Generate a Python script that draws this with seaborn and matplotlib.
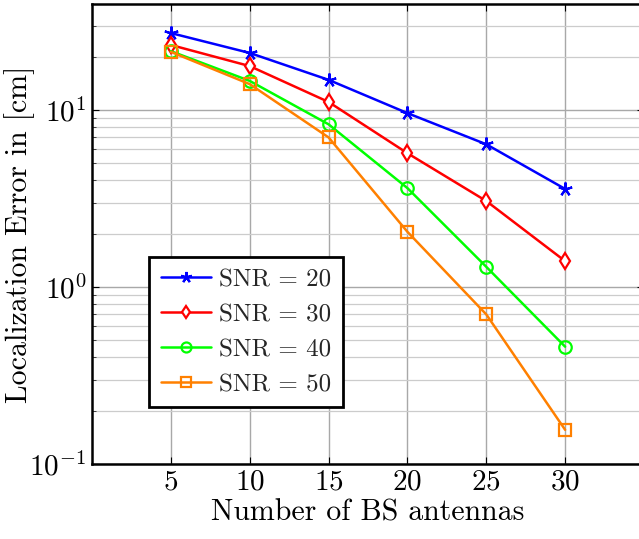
import matplotlib
matplotlib.use("Agg")
import matplotlib.pyplot as plt
import seaborn as sns
import pandas as pd
from matplotlib.ticker import LogLocator, NullFormatter, FixedLocator

antennas = [5, 10, 15, 20, 25, 30]
snr20 = [27.2, 21.0, 14.8, 9.6, 6.4, 3.58]
snr30 = [23.3, 17.7, 11.1, 5.7, 3.06, 1.40]
snr40 = [21.5, 14.6, 8.3, 3.62, 1.30, 0.46]
snr50 = [21.3, 14.0, 7.0, 2.05, 0.70, 0.156]
legend_labels = ["SNR = 20", "SNR = 30", "SNR = 40", "SNR = 50"]
colors = ["#0000ff", "#ff0000", "#00ff00", "#ff8000"]
markers = [(5, 2, 0), "d", "o", "s"]
msizes = [10, 8, 9, 9]
facecolors = ["#0000ff", "white", "none", "none"]

sns.set_theme(style="white")
plt.rcParams["font.family"] = ["serif"]
plt.rcParams["font.serif"] = ["cmr10", "DejaVu Serif"]
plt.rcParams["mathtext.fontset"] = "cm"
plt.rcParams["axes.formatter.use_mathtext"] = True

fig = plt.figure(figsize=(6.39, 5.39), dpi=100)
# axes spans x from 0 to 35; right spine falls just outside the image as in the reference
ax = fig.add_axes([92 / 639, 75 / 539, 552 / 639, 460 / 539])

series = [snr20, snr30, snr40, snr50]
for vals, lab, c, m, ms in zip(series, legend_labels, colors, markers, msizes):
    df = pd.DataFrame({"x": antennas, "y": vals})
    sns.lineplot(data=df, x="x", y="y", ax=ax, color=c, marker=m,
                 markersize=ms, markeredgecolor=c, markeredgewidth=1.6,
                 linewidth=1.8, label=lab)
for line, fc in zip(ax.lines, facecolors):
    line.set_markerfacecolor(fc)

ax.set_yscale("log")
ax.set_xlim(0, 35)
ax.set_ylim(0.1, 39.7)
ax.xaxis.set_major_locator(FixedLocator(antennas))
ax.yaxis.set_major_locator(LogLocator(base=10, numticks=10))
ax.yaxis.set_minor_locator(LogLocator(base=10, subs=range(2, 10), numticks=20))
ax.yaxis.set_minor_formatter(NullFormatter())

ax.grid(True, which="major", axis="both", color="#a8a8a8", linewidth=1.0)
ax.grid(True, which="minor", axis="y", color="#cccccc", linewidth=0.9)
ax.set_axisbelow(True)
for s in ax.spines.values():
    s.set_color("black")
    s.set_linewidth(1.8)

ax.tick_params(axis="both", which="major", direction="in", length=5, width=0.8,
               labelsize=21, colors="black", left=True, bottom=True, top=True, right=True,
               pad=4)
ax.tick_params(axis="y", which="minor", direction="in", length=3, width=0.6,
               left=True, right=True)
ax.set_xlabel("Number of BS antennas", fontsize=21.5, color="black", labelpad=2)
ax.set_ylabel("Localization Error in [cm]", fontsize=21.5, color="black")
ax.yaxis.set_label_coords(-0.104, 0.5)

leg = ax.legend(loc="lower left", bbox_to_anchor=(0.104, 0.123), borderaxespad=0,
                fontsize=18, frameon=True, fancybox=False, framealpha=1,
                edgecolor="black", handlelength=2.0, handletextpad=0.35,
                labelspacing=0.5, borderpad=0.45, markerscale=0.8)
leg.get_frame().set_linewidth(2.0)

fig.savefig("out.png", dpi=100)
